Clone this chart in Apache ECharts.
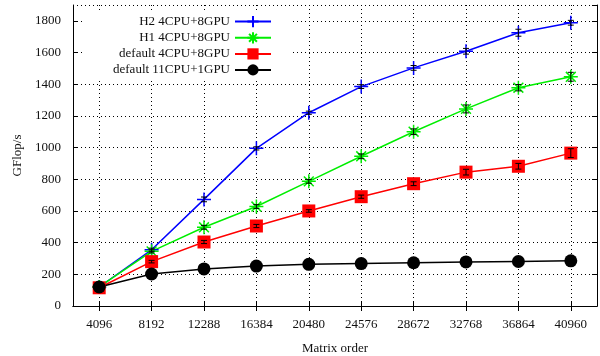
<!DOCTYPE html>
<html>
<head>
<meta charset="utf-8">
<script src="https://cdn.jsdelivr.net/npm/echarts@6/dist/echarts.min.js"></script>
<style>
  html, body { margin: 0; padding: 0; background: #fff; }
  #chart { width: 600px; height: 356px; }
</style>
</head>
<body>
<div id="chart"></div>
<script>
const matrixOrders = ['4096', '8192', '12288', '16384', '20480', '24576', '28672', '32768', '36864', '40960'];

const h2Gpu = [120, 355, 673, 995, 1220, 1385, 1503, 1608, 1725, 1788];
const h1Gpu = [120, 345, 497, 628, 787, 945, 1100, 1244, 1378, 1447];
const default4Gpu = [115, 280, 404, 505, 600, 690, 772, 845, 882, 965];
const default11Cpu = [120, 202, 234, 252, 263, 268, 273, 278, 281, 285];

// error bar half-widths (GFlop/s)
const h2Err = [5, 10, 15, 10, 10, 12, 15, 18, 22, 15];
const h1Err = [5, 10, 12, 12, 12, 15, 18, 25, 20, 28];
const default4Err = [5, 8, 10, 10, 8, 10, 12, 18, 18, 28];

const yMax = 1900;
const yStep = 200;

const fontFamily = '"Liberation Serif", "DejaVu Serif", serif';

const plusPath = 'path://M0,5H10M5,0V10';
const starPath = 'path://M0,5H10M5,0V10M1.5,1.5L8.5,8.5M8.5,1.5L1.5,8.5';

function lineSeries(name, data, color, symbol, size, strokeSymbol) {
  return {
    name: name,
    type: 'line',
    data: data,
    symbol: symbol,
    symbolSize: size,
    showAllSymbol: true,
    lineStyle: { color: color, width: 1.5 },
    itemStyle: strokeSymbol
      ? { color: color, borderColor: color, borderWidth: 1.5 }
      : { color: color, borderWidth: 0 },
    emphasis: { disabled: true },
    animation: false,
    z: 3,
  };
}

function errorSeries(values, errs) {
  const data = values.map((v, i) => [i, v - errs[i], v + errs[i]]);
  return {
    type: 'custom',
    data: data,
    z: 5,
    silent: true,
    animation: false,
    renderItem: function (params, api) {
      const lo = api.coord([api.value(0), api.value(1)]);
      const hi = api.coord([api.value(0), api.value(2)]);
      const cap = 3;
      const style = { stroke: '#000', lineWidth: 1, fill: null };
      return {
        type: 'group',
        children: [
          { type: 'line', shape: { x1: lo[0], y1: lo[1], x2: hi[0], y2: hi[1] }, style: style },
          { type: 'line', shape: { x1: lo[0] - cap, y1: lo[1], x2: lo[0] + cap, y2: lo[1] }, style: style },
          { type: 'line', shape: { x1: hi[0] - cap, y1: hi[1], x2: hi[0] + cap, y2: hi[1] }, style: style },
        ],
      };
    },
  };
}

const baseAxisLine = { show: true, lineStyle: { color: '#000', width: 1 } };
const dotted = { show: true, lineStyle: { color: '#000', type: [1, 3], width: 1 } };
const innerTick = { show: true, inside: true, length: 5, lineStyle: { color: '#000' } };

const chart = echarts.init(document.getElementById('chart'));

chart.setOption({
  backgroundColor: '#fff',
  textStyle: { fontFamily: fontFamily },
  grid: { left: 73, right: 3, top: 5, bottom: 50, containLabel: false, outerBoundsMode: 'none' },
  legend: {
    orient: 'vertical',
    right: 310,
    top: 13,
    align: 'right',
    itemWidth: 36,
    itemHeight: 14,
    itemGap: 3,
    padding: [2, 18, 4, 30],
    backgroundColor: '#fff',
    textStyle: { fontFamily: fontFamily, fontSize: 13, color: '#111' },
    data: ['H2 4CPU+8GPU', 'H1 4CPU+8GPU', 'default 4CPU+8GPU', 'default 11CPU+1GPU'],
  },
  xAxis: [
    {
      type: 'category',
      data: matrixOrders,
      boundaryGap: true,
      name: 'Matrix order',
      nameLocation: 'middle',
      nameGap: 36,
      nameTextStyle: { fontFamily: fontFamily, fontSize: 13, color: '#111' },
      axisLine: baseAxisLine,
      axisTick: Object.assign({ alignWithLabel: true }, innerTick),
      axisLabel: { fontFamily: fontFamily, fontSize: 13, color: '#111', margin: 12, interval: 0 },
      splitLine: Object.assign({ alignWithLabel: true, interval: 0 }, dotted),
    },
    {
      type: 'category',
      data: matrixOrders,
      position: 'top',
      boundaryGap: true,
      axisLine: baseAxisLine,
      axisTick: Object.assign({ alignWithLabel: true }, innerTick),
      axisLabel: { show: false },
      splitLine: { show: false },
    },
  ],
  yAxis: [
    {
      type: 'value',
      min: 0,
      max: yMax,
      interval: yStep,
      name: 'GFlop/s',
      nameLocation: 'middle',
      nameGap: 42,
      nameRotate: 90,
      nameTextStyle: { fontFamily: fontFamily, fontSize: 13, color: '#111' },
      axisLine: baseAxisLine,
      axisTick: innerTick,
      axisLabel: {
        fontFamily: fontFamily,
        fontSize: 13,
        color: '#111',
        margin: 12,
        showMaxLabel: false,
        formatter: v => String(v),
      },
      splitLine: dotted,
    },
    {
      type: 'value',
      min: 0,
      max: yMax,
      interval: yStep,
      position: 'right',
      axisLine: baseAxisLine,
      axisTick: innerTick,
      axisLabel: { show: false },
      splitLine: { show: false },
    },
  ],
  series: [
    lineSeries('H2 4CPU+8GPU', h2Gpu, '#0000ff', plusPath, 14, true),
    lineSeries('H1 4CPU+8GPU', h1Gpu, '#00ee00', starPath, 14, true),
    lineSeries('default 4CPU+8GPU', default4Gpu, '#ff0000', 'rect', 13, false),
    lineSeries('default 11CPU+1GPU', default11Cpu, '#000000', 'circle', 13, false),
    errorSeries(h2Gpu, h2Err),
    errorSeries(h1Gpu, h1Err),
    errorSeries(default4Gpu, default4Err),
  ],
});
</script>
</body>
</html>
